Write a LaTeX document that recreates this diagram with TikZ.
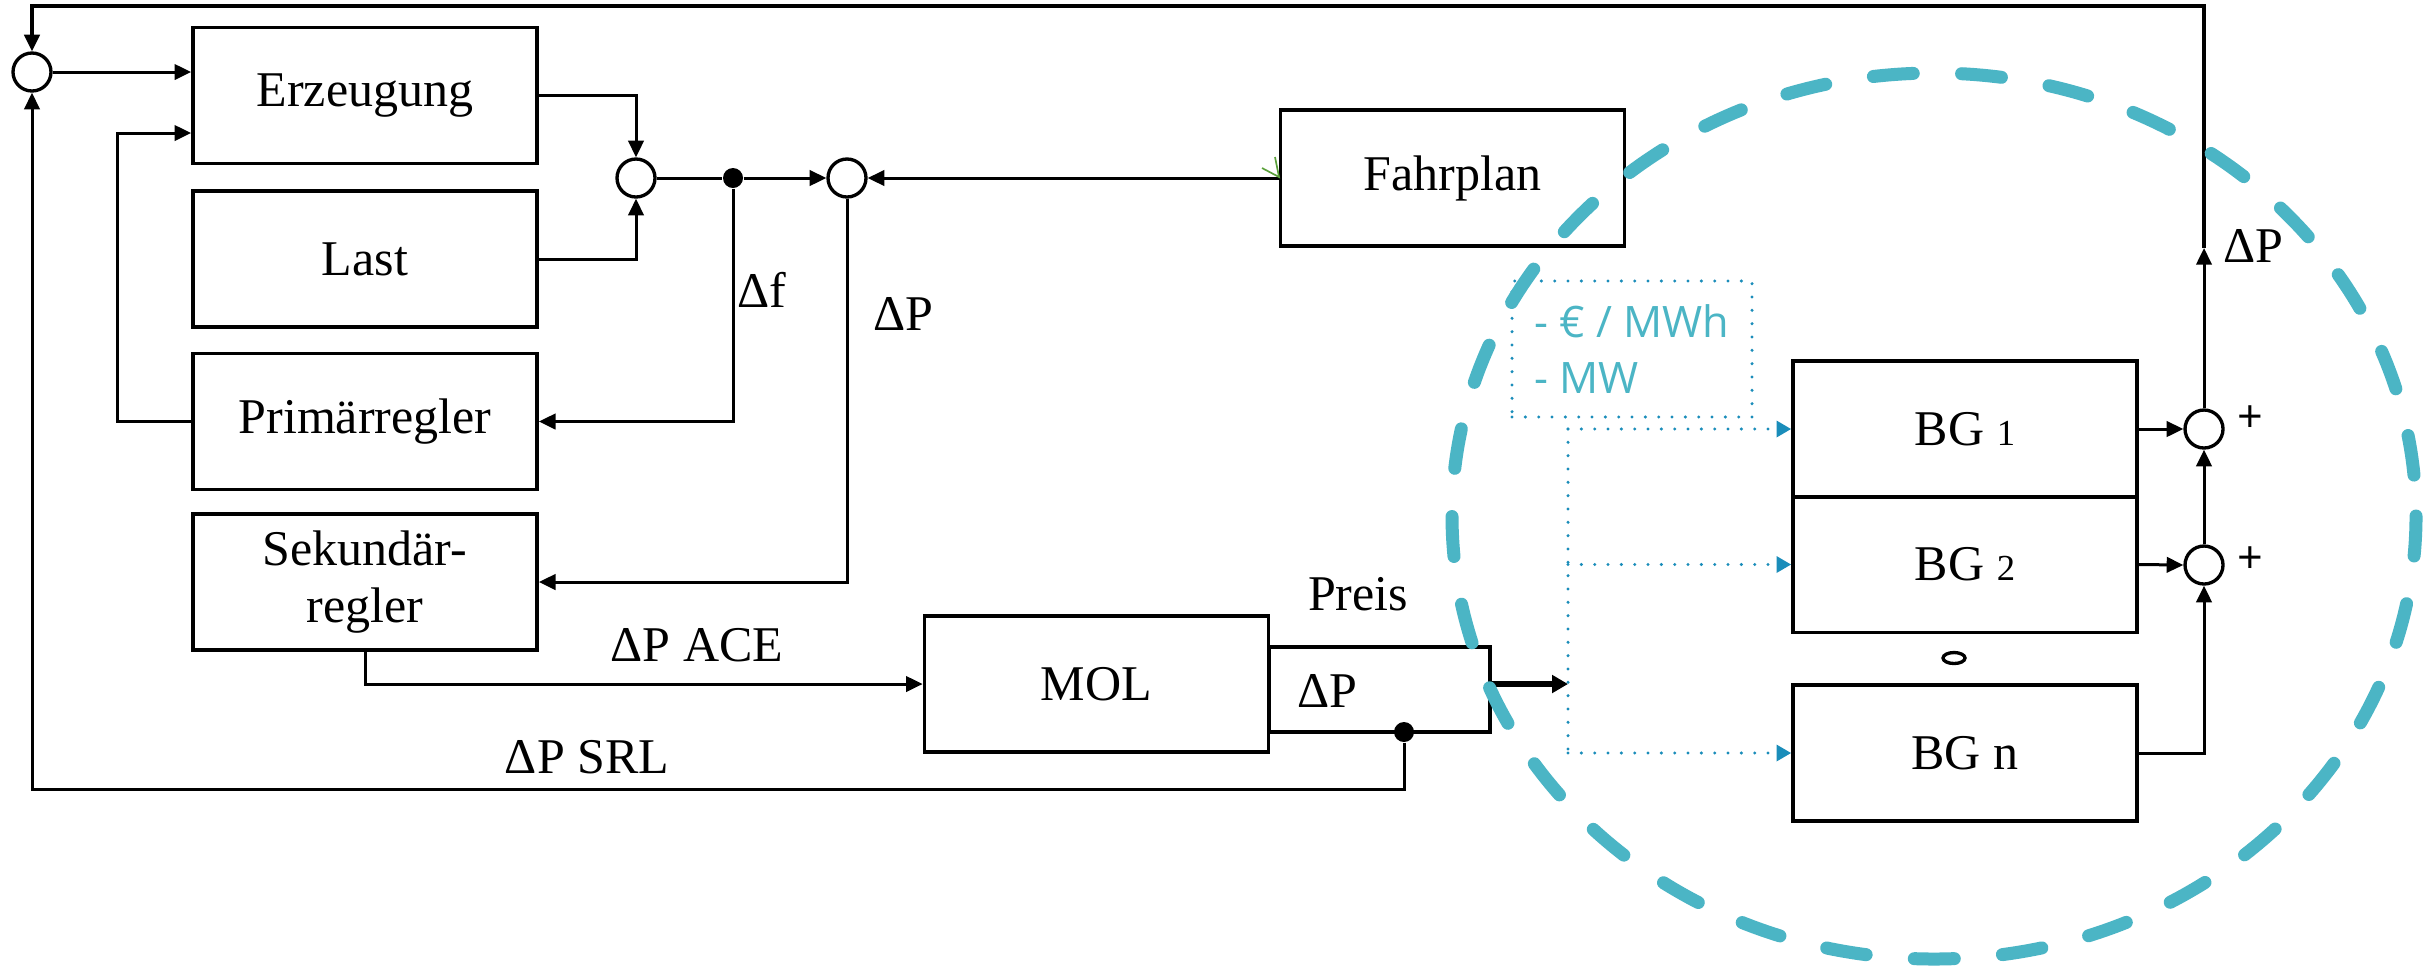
\documentclass[tikz,border=0pt]{standalone}
\usepackage{fontspec}
\setmainfont{Liberation Serif}
\newfontfamily\osans{Open Sans}
\usetikzlibrary{arrows.meta,calc}
\definecolor{tealc}{HTML}{4BB5C5}
\definecolor{dotblue}{HTML}{1A8DBA}
\definecolor{artgreen}{HTML}{5AA03A}
\begin{document}
\begin{tikzpicture}[x=0.3pt,y=-0.3pt,
  box/.style={draw, line width=1.1pt, minimum width=103.2pt, minimum height=40.8pt, inner sep=0pt, font=\fontsize{15}{17}\selectfont, align=center},
  sumc/.style={draw, circle, line width=1pt, minimum size=11.4pt, inner sep=0pt},
  dotn/.style={fill, circle, minimum size=6pt, inner sep=0pt},
  conn/.style={line width=0.9pt},
  arr/.style={conn, -{Triangle[length=5pt,width=4.6pt]}},
  thickarr/.style={line width=1.8pt, -{Triangle[length=4.8pt,width=5.2pt]}},
  lbl/.style={font=\fontsize{15}{17}\selectfont, inner sep=0pt},
  dotl/.style={dotblue, line width=1pt, line cap=round, dash pattern=on 0pt off 4pt},
  dotarr/.style={dotl, -{Triangle[length=4.4pt,width=4.8pt]}},
]
\fill[white] (0,0) rectangle (2430,970);
\useasboundingbox (0,0) rectangle (2430,970);

% boxes
\node[box] (erz) at (365,95.5) {Erzeugung};
\node[box] (last) at (365,259) {Last};
\node[box] (prim) at (365,421.5) {Primärregler};
\node[box] (sek) at (365,582) {Sekundär-\\regler};
\node[box] (fahr) at (1452.5,178) {Fahrplan};
\node[box] (mol) at (1096.5,684) {MOL};
\node[box, minimum width=66.3pt, minimum height=25.5pt] (dpb) at (1379.5,689.5) {};
\node[box] (bg1) at (1965,429) {BG {\fontsize{11}{10}\selectfont 1}};
\node[box] (bg2) at (1965,564.5) {BG {\fontsize{11}{10}\selectfont 2}};
\node[box] (bgn) at (1965,753) {BG n};

% sum points and junction dots
\node[sumc] (L) at (32,72) {};
\node[sumc] (s1) at (636,178) {};
\node[sumc] (s3) at (847,178) {};
\node[sumc] (b1) at (2204,429) {};
\node[sumc] (b2) at (2204,565) {};
\node[dotn] (d1) at (733,178) {};
\node[dotn] (d2) at (1404,732) {};

% helper coordinates
\coordinate (tr) at (2204,6);
\coordinate (tl) at (32,6);
\coordinate (up) at (2204,248);
\coordinate (pl) at (117,421.5);
\coordinate (pu) at (117,133);
\coordinate (bl) at (32,789);
\coordinate (br) at (1404,789);
\coordinate (sp1) at (1568,684);
\coordinate (sv1) at (1568,429);
\coordinate (sv2) at (1568,564.5);
\coordinate (sv3) at (1568,753);

% connectors
\draw[arr] (b1.north) -- (up);
\draw[arr, line width=1.1pt] (up) -- (tr) -- (tl) -- (L.north);
\draw[arr] (L.east) -- (L.east -| erz.west);
\draw[arr] (prim.west) -- (pl) -- (pu) -- (pu -| erz.west);
\draw[arr] (erz.east) -| (s1.north);
\draw[arr] (last.east) -| (s1.south);
\draw[conn] (s1.east) -- (d1);
\draw[arr] (d1) -- (s3.west);
\draw[arr] (d1) |- (prim.east);
\draw[arr] (fahr.west) -- (s3.east);
\draw[arr] (s3.south) |- (sek.east);
\draw[arr] (sek.south) |- (mol.west);
\draw[arr] (d2) -- (br) -- (bl) -- (L.south);
\draw[thickarr] (mol.east -| dpb.east) -- (sp1);
\draw[dotl] (sv1) -- (sv3);
\draw[dotarr] (sv1) -- (bg1.west);
\draw[dotarr] (sv2) -- (bg2.west);
\draw[dotarr] (sv3) -- (bgn.west);
\draw[arr] (bg1.east) -- (b1.west);
\draw[arr] (bg2.east) -- (b2.west);
\draw[arr] (bgn.east) -| (b2.south);
\draw[arr] (b2.north) -- (b1.south);

% small green mark at Fahrplan
\draw[artgreen, line width=0.5pt] (1262,168) -- (1279,177) -- (1275,157);

% info box
\node[draw=dotblue, line width=1pt, line cap=round, dash pattern=on 0pt off 4pt,
      minimum width=72pt, minimum height=40.8pt, align=left, inner sep=0pt,
      text=tealc, font=\osans\fontsize{13}{17}\selectfont] (info) at (1632,349) {- € / MWh\\- MW};

% labels
\node[lbl] (lf) at (762,290) {Δf};
\node[lbl] (lp) at (903,314) {ΔP};
\node[lbl] (lace) at (697,645) {ΔP ACE};
\node[lbl] (lsrl) at (587,757) {ΔP SRL};
\node[lbl] (lpreis) at (1358,594) {Preis};
\node[lbl] (ldp) at (1327,691) {ΔP};
\node[lbl] (lup) at (2253,246) {ΔP};
\node[font=\osans\fontsize{13.5}{13}\selectfont, inner sep=0pt] (plus1) at (2250,419) {+};
\node[font=\osans\fontsize{13.5}{13}\selectfont, inner sep=0pt] (plus2) at (2250,560) {+};
\draw[line width=1pt] (1954,658) ellipse [x radius=11, y radius=5.5];

% dashed group ellipse
\draw[tealc, line width=3.9pt, line cap=round, dash pattern=on 12pt off 14.5pt]
  (1934,516) ellipse [x radius=482, y radius=443];
\end{tikzpicture}
\end{document}
